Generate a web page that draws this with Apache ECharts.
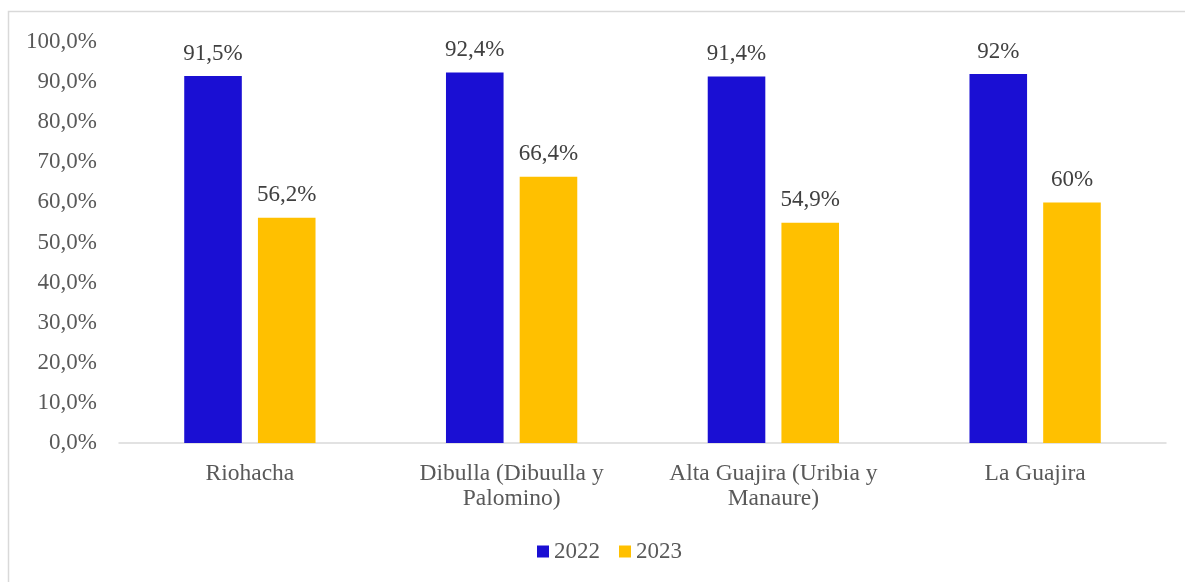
<!DOCTYPE html>
<html><head><meta charset="utf-8">
<script src="https://cdn.jsdelivr.net/npm/echarts@6/dist/echarts.min.js"></script>
<style>html,body{margin:0;padding:0;background:#fff}#c{width:1185px;height:582px}</style>
</head><body><div id="c"></div>
<script>
const categories = ['Riohacha', 'Dibulla (Dibuulla y\nPalomino)', 'Alta Guajira (Uribia y\nManaure)', 'La Guajira'];
const seriesNames = ['2022', '2023'];
const values2022 = [91.5, 92.4, 91.4, 92];
const values2023 = [56.2, 66.4, 54.9, 60];
const yTicks = [0, 10, 20, 30, 40, 50, 60, 70, 80, 90, 100];

const font = '"Liberation Serif", "Times New Roman", serif';
const fmt = v => String(v).replace('.', ',') + '%';
const chart = echarts.init(document.getElementById('c'));
chart.setOption({
  animation: false,
  textStyle: { fontFamily: font },
  graphic: [{ type: 'rect', shape: { x: 8.5, y: 11.5, width: 1200, height: 600 }, style: { fill: 'none', stroke: '#d9d9d9', lineWidth: 1.5 }, silent: true }],
  grid: { left: 119, right: 19, top: 42, bottom: 139 },
  legend: {
    bottom: 14, left: 532, itemWidth: 12, itemHeight: 12, itemGap: 19,
    icon: 'rect', textStyle: { fontFamily: font, fontSize: 23, color: '#595959' },
    data: seriesNames
  },
  xAxis: {
    type: 'category', data: categories,
    axisLine: { lineStyle: { color: '#d9d9d9', width: 1.5 } },
    axisTick: { show: false },
    axisLabel: { fontFamily: font, fontSize: 23.5, color: '#595959', margin: 18, lineHeight: 25, interval: 0 }
  },
  yAxis: {
    type: 'value', min: yTicks[0], max: yTicks[yTicks.length - 1], interval: 10,
    splitLine: { show: false }, axisLine: { show: false }, axisTick: { show: false },
    axisLabel: { fontFamily: font, fontSize: 23, color: '#595959', margin: 22, formatter: v => v.toFixed(1).replace('.', ',') + '%' }
  },
  series: [
    { name: seriesNames[0], type: 'bar', data: values2022, barWidth: '22%', barGap: '28%',
      itemStyle: { color: '#1a0fd3' },
      label: { show: true, position: 'top', distance: 11, fontFamily: font, fontSize: 23, color: '#404040', formatter: p => fmt(p.value) } },
    { name: seriesNames[1], type: 'bar', data: values2023, barWidth: '22%',
      itemStyle: { color: '#ffc000' },
      label: { show: true, position: 'top', distance: 11, fontFamily: font, fontSize: 23, color: '#404040', formatter: p => fmt(p.value) } }
  ]
});
</script></body></html>
